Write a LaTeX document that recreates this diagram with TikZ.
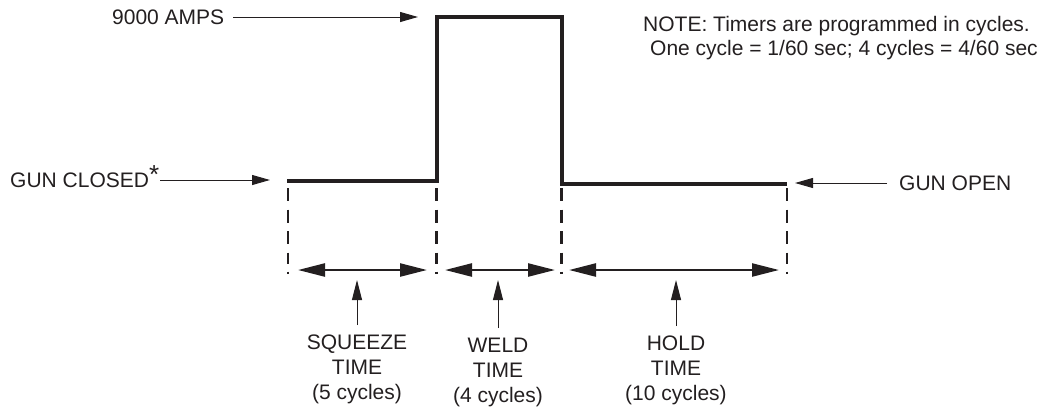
\documentclass[tikz,border=0pt]{standalone}
\usepackage{fontspec}
\setmainfont{Liberation Sans}
\usetikzlibrary{arrows.meta}
\definecolor{ink}{HTML}{231F20}
\begin{document}
\begin{tikzpicture}[x=1pt,y=-1pt,
  every node/.style={inner sep=0pt, text=ink, font=\fontsize{21}{25}\selectfont},
  lbl/.style={text height=15pt, text depth=0pt},
  wave/.style={draw=ink, line width=4pt, line join=miter},
  guide/.style={draw=ink, line width=2.4pt,
    dash pattern=on 13pt off 8.5pt on 13pt off 8.5pt on 13pt off 8.5pt on 11pt off 8pt on 2pt off 20pt},
  span/.style={draw=ink, line width=2.4pt, {Triangle[length=27pt,width=13pt]}-{Triangle[length=27pt,width=13pt]}},
  callout/.style={draw=ink, line width=1pt, -{Triangle[length=18pt,width=10pt]}},
  uparrow/.style={draw=ink, line width=1pt, -{Triangle[length=20pt,width=10pt]}, shorten <=10pt}
]
\useasboundingbox (0,0) rectangle (1047,408);

% waveform
\coordinate (w0) at (287,181);
\coordinate (w1) at (436.5,181);
\coordinate (w2) at (436.5,17);
\coordinate (w3) at (561.5,17);
\coordinate (w4) at (561.5,184);
\coordinate (w5) at (787,184);
\draw[wave] (w0) -- (w1) -- (w2) -- (w3) -- (w4) -- (w5);

% dashed guides
\foreach \x/\n in {288/a,436.5/b,561.5/c,787/d}{
  \coordinate (g\n top) at (\x,188);
  \coordinate (g\n bot) at (\x,276);
  \draw[guide] (g\n top) -- (g\n bot);
}

% spans
\coordinate (s1a) at (298,270); \coordinate (s1b) at (427,270);
\coordinate (s2a) at (445,270); \coordinate (s2b) at (555,270);
\coordinate (s3a) at (569,270); \coordinate (s3b) at (779,270);
\draw[span] (s1a) -- (s1b);
\draw[span] (s2a) -- (s2b);
\draw[span] (s3a) -- (s3b);

% labels under spans
\node[anchor=north, align=center] (sq) at (357,335) {SQUEEZE\\TIME\\(5 cycles)};
\node[anchor=north, align=center] (wd) at (498,338) {WELD\\TIME\\(4 cycles)};
\node[anchor=north, align=center] (hd) at (676,336) {HOLD\\TIME\\(10 cycles)};
\coordinate (sqtip) at (357,280);
\coordinate (wdtip) at (498,280);
\coordinate (hdtip) at (676,280);
\draw[uparrow] (sq.north) -- (sqtip);
\draw[uparrow] (wd.north) -- (wdtip);
\draw[uparrow] (hd.north) -- (hdtip);

% callouts
\node[lbl, anchor=west] (amps) at (112,17) {9000 AMPS};
\coordinate (ampstip) at (418,17);
\draw[callout] ([xshift=9pt]amps.east) -- (ampstip);

\node[lbl, anchor=west] (gc) at (10,180) {GUN CLOSED{\fontsize{26}{26}\selectfont\raisebox{4.5pt}{*}}};
\coordinate (gctip) at (270,180);
\draw[callout] ([xshift=1pt]gc.east |- gctip) -- (gctip);

\node[lbl, anchor=west] (go) at (899,183) {GUN OPEN};
\coordinate (gotip) at (795,183);
\draw[callout] ([xshift=-12pt]go.west) -- (gotip);

% note
\node[anchor=north west, align=left, font=\fontsize{21}{24}\selectfont] (note) at (643,16.5)
  {NOTE: Timers are programmed in cycles.\\\hspace*{7pt}One cycle = 1/60 sec; 4 cycles = 4/60 sec};
\end{tikzpicture}
\end{document}
